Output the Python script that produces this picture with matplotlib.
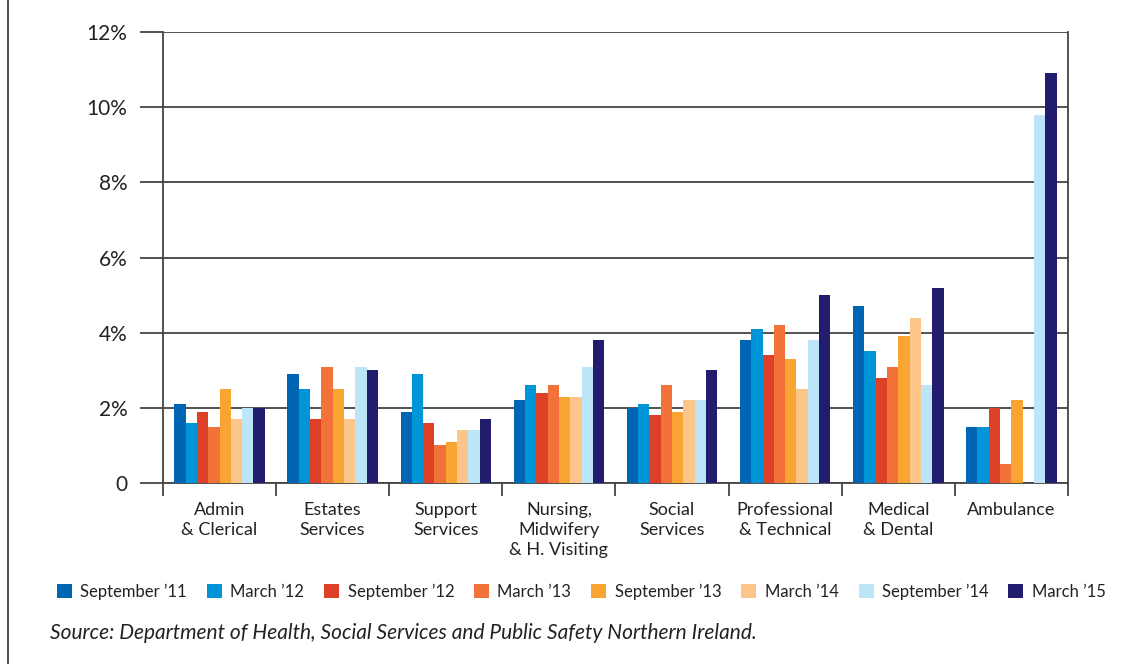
import matplotlib.pyplot as plt
import numpy as np
from matplotlib.lines import Line2D

plt.rcParams['font.family'] = ['Lato', 'DejaVu Sans']

categories = ['Admin\n& Clerical', 'Estates\nServices', 'Support\nServices',
              'Nursing,\nMidwifery\n& H. Visiting', 'Social\nServices',
              'Professional\n& Technical', 'Medical\n& Dental', 'Ambulance']
periods = ['September \u201911', 'March \u201912', 'September \u201912', 'March \u201913',
           'September \u201913', 'March \u201914', 'September \u201914', 'March \u201915']
colors = ['#0066b3', '#0095d9', '#dc4128', '#f2723a',
          '#f9a533', '#fcc68a', '#bce5f8', '#211c6e']

# values in % per period, one entry per category
sep11 = [2.1, 2.9, 1.9, 2.2, 2.0, 3.8, 4.7, 1.5]
mar12 = [1.6, 2.5, 2.9, 2.6, 2.1, 4.1, 3.5, 1.5]
sep12 = [1.9, 1.7, 1.6, 2.4, 1.8, 3.4, 2.8, 2.0]
mar13 = [1.5, 3.1, 1.0, 2.6, 2.6, 4.2, 3.1, 0.5]
sep13 = [2.5, 2.5, 1.1, 2.3, 1.9, 3.3, 3.9, 2.2]
mar14 = [1.7, 1.7, 1.4, 2.3, 2.2, 2.5, 4.4, 0.0]
sep14 = [2.0, 3.1, 1.4, 3.1, 2.2, 3.8, 2.6, 9.8]
mar15 = [2.0, 3.0, 1.7, 3.8, 3.0, 5.0, 5.2, 10.9]
series = [sep11, mar12, sep12, mar13, sep13, mar14, sep14, mar15]

fig = plt.figure(figsize=(11.27, 6.64), dpi=100)
ax = fig.add_axes([0.1446, 0.2726, 0.803, 0.679])

x = np.arange(len(categories))
w = 0.1
for j, vals in enumerate(series):
    ax.bar(x + (j - 3.5) * w, vals, width=w, color=colors[j], label=periods[j], zorder=3)

ax.set_xlim(-0.5, 7.5)
ax.set_ylim(0, 12)
ax.set_yticks(range(0, 13, 2))
ax.set_yticklabels(['0', '2%', '4%', '6%', '8%', '10%', '12%'], fontsize=15, color='#222')
ax.yaxis.grid(True, color='#444', linewidth=1.3, zorder=0)
ax.tick_params(axis='y', length=16.5, width=1.3, color='#444', pad=9)

ax.set_xticks(x)
ax.set_xticklabels(categories, fontsize=13, color='#222', linespacing=1.3, va='top')
ax.set_xticks(np.arange(-0.5, 8, 1), minor=True)
ax.tick_params(axis='x', which='major', length=0, pad=14)
ax.tick_params(axis='x', which='minor', length=9, width=1.3, color='#444')

ax.spines['top'].set_visible(False)
for s in ['left', 'right', 'bottom']:
    ax.spines[s].set_color('#444')
    ax.spines[s].set_linewidth(1.3)

fig.legend(loc='center left', bbox_to_anchor=(0.0506, 0.109), ncol=8, frameon=False,
           fontsize=12, handlelength=0.9, handleheight=0.9, handletextpad=0.5,
           columnspacing=1.2, labelcolor='#222', borderpad=0, borderaxespad=0)

fig.text(0.044, 0.047, 'Source: Department of Health, Social Services and Public Safety Northern Ireland.',
         fontsize=15, style='italic', color='#222', va='center')

fig.add_artist(Line2D([0.0075, 0.0075], [0, 1], color='#444', linewidth=1.3))

fig.savefig('out.png', dpi=100)
